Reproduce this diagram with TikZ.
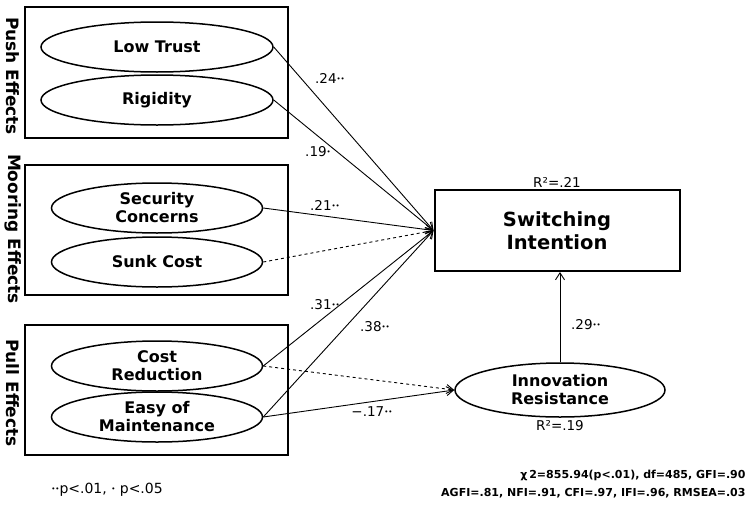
\documentclass[tikz,border=0pt]{standalone}
\usepackage{fontspec}
\setmainfont{DejaVu Sans}
\usetikzlibrary{arrows.meta, positioning, shapes.geometric}
\newcommand{\sigdot}{{\fontsize{7}{7}\selectfont\raisebox{2pt}{•}}}

\begin{document}
\begin{tikzpicture}[x=1pt,y=-1pt,>={Straight Barb[length=7pt,width=9pt]},
 every node/.style={font=\fontsize{13.5}{15}\selectfont},
 group/.style={draw,line width=2pt,minimum width=263pt,minimum height=130pt},
 factor/.style={ellipse,draw,line width=1.5pt,minimum width=211pt,minimum height=50pt,
   inner sep=0pt,align=center,font=\fontsize{16}{18}\selectfont\bfseries},
 side/.style={rotate=-90,font=\fontsize{17}{19}\selectfont\bfseries},
 link/.style={->,line width=.9pt}]
 \useasboundingbox (0,0) rectangle (751,506);
 % groups of effects
 \node[group,minimum height=131pt] (push) at (156.5,72.5) {};
 \node[group] (moor) at (156.5,230) {};
 \node[group] (pull) at (156.5,390) {};
 \node[side] (pushlab) at (13,76) {Push Effects};
 \node[side] (moorlab) at (13,229) {Mooring Effects};
 \node[side] (pulllab) at (13,393) {Pull Effects};
 \node[factor,minimum width=232pt] (lt) at (157,47) {Low Trust};
 \node[factor,minimum width=232pt] (rg) at (157,100) {Rigidity};
 \node[factor] (sc) at (157,208) {Security\\Concerns};
 \node[factor] (sk) at (157,262) {Sunk Cost};
 \node[factor] (cr) at (157,366) {Cost\\Reduction};
 \node[factor] (em) at (157,417) {Easy of\\Maintenance};
 % outcomes
 \node[draw,line width=2pt,minimum width=245pt,minimum height=81pt,align=center,
   font=\fontsize{19.5}{23}\selectfont\bfseries] (si) at (557,230.5) {Switching\\Intention};
 \node[factor,minimum width=210pt,minimum height=54pt] (ir) at (560,390) {Innovation\\Resistance};
 \node[above=1pt of si,inner sep=0pt] (r21) {R²=.21};
 \node[below=3pt of ir,inner sep=0pt] (r19) {R²=.19};
 \draw[link] (lt.east) -- (si.west);
 \draw[link] (rg.east) -- (si.west);
 \draw[link] (sc.east) -- (si.west);
 \draw[link,dashed] (sk.east) -- (si.west);
 \draw[link] (cr.east) -- (si.west);
 \draw[link] (em.east) -- (si.west);
 \draw[link,dashed] (cr.east) -- (ir.west);
 \draw[link] (em.east) -- (ir.west);
 \draw[link] (ir.north) -- (ir.north |- si.south);
 % path coefficients
 \node (c1) at (330,78) {.24\sigdot\sigdot};
 \node (c2) at (318,152) {.19\sigdot};
 \node (c3) at (325,205) {.21\sigdot\sigdot};
 \node (c4) at (325,305) {.31\sigdot\sigdot};
 \node (c5) at (375,327) {.38\sigdot\sigdot};
 \node (c6) at (372,412) {−.17\sigdot\sigdot};
 \node (c7) at (586,325) {.29\sigdot\sigdot};
 \node[font=\fontsize{14}{16}\selectfont] (note) at (107,490) {\sigdot\sigdot p<.01, \sigdot\ p<.05};
 \node[anchor=east,align=right,font=\fontsize{11}{18}\selectfont\bfseries] (fit) at (749,484)
   {χ\,2=855.94(p<.01), df=485, GFI=.90\\AGFI=.81, NFI=.91, CFI=.97, IFI=.96, RMSEA=.03};
\end{tikzpicture}
\end{document}
